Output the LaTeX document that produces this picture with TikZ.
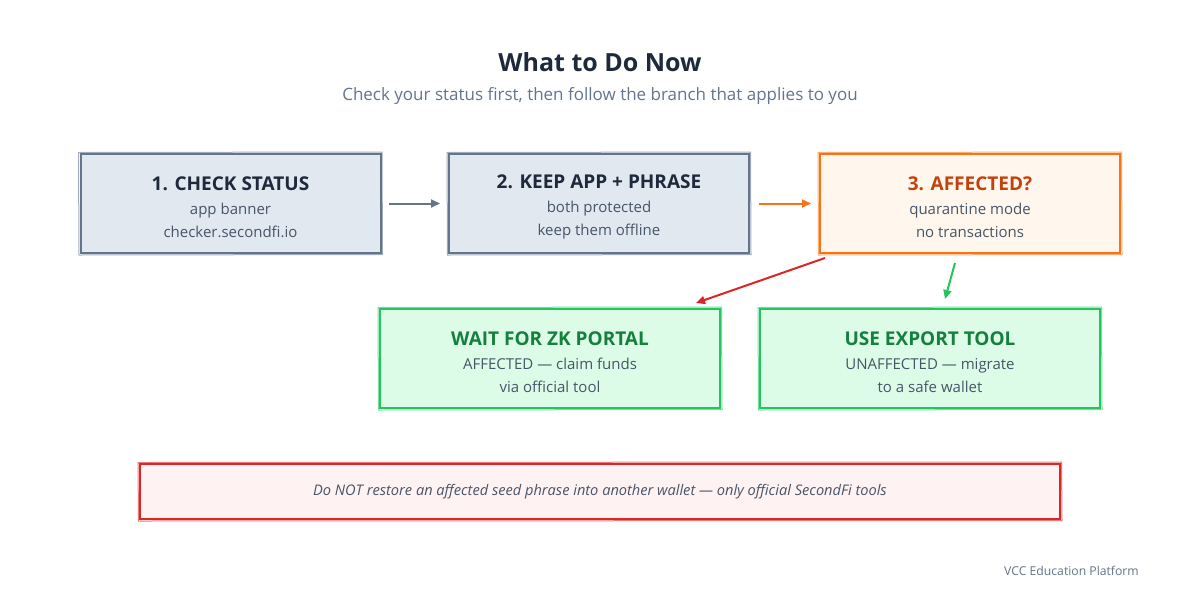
\documentclass[tikz,border=0pt]{standalone}
\usepackage{fontspec}
\setmainfont{Open Sans}
\usetikzlibrary{positioning, arrows.meta, calc}

\definecolor{slateline}{HTML}{64748B}
\definecolor{slatefill}{HTML}{E2E8F0}
\definecolor{inktitle}{HTML}{1E293B}
\definecolor{inktext}{HTML}{475569}
\definecolor{orangeline}{HTML}{F97316}
\definecolor{orangefill}{HTML}{FFF7ED}
\definecolor{orangetitle}{HTML}{C2410C}
\definecolor{greenline}{HTML}{22C55E}
\definecolor{greenfill}{HTML}{DCFCE7}
\definecolor{greentitle}{HTML}{15803D}
\definecolor{redline}{HTML}{DC2626}
\definecolor{redfill}{HTML}{FEF2F2}

\tikzset{
  stepbox/.style={draw=#1line, fill=#1fill, line width=2pt, inner sep=0pt,
    minimum height=99pt, align=center, text=inktext,
    font=\fontsize{15}{23}\selectfont},
  flowarrow/.style={line width=2pt, -{Triangle[length=9pt,width=8pt]}},
}

% second, slightly offset stroke for the hand-drawn look
\newcommand{\sketchframe}[2]{%
  \draw[#2, line width=1pt, opacity=0.6]
    ([shift={(-1pt,0.5pt)}]#1.north west) -- ([shift={(0.5pt,1pt)}]#1.north east)
    -- ([shift={(1pt,-0.5pt)}]#1.south east) -- ([shift={(-0.5pt,-1pt)}]#1.south west)
    -- cycle;}

\newcommand{\boxtitle}[2]{{\rule{0pt}{21pt}\fontsize{19}{22}\selectfont\bfseries\color{#1}#2}\\[1pt]}

\begin{document}
\begin{tikzpicture}[x=1pt, y=-1pt]

  % Canvas.
  \useasboundingbox[fill=white] (0,0) rectangle (1200,600);

  % Heading.
  \node[text=inktitle, font=\fontsize{25}{28}\selectfont\bfseries] (title) at (600,62) {What to Do Now};
  \node[text=slateline, font=\fontsize{17}{20}\selectfont] (subtitle) at (600,96)
    {Check your status first, then follow the branch that applies to you};

  % Top row of steps.
  \node[stepbox=slate, minimum width=300pt] (check) at (230.5,203.5)
    {\boxtitle{inktitle}{1. CHECK STATUS} app banner\\ checker.secondfi.io};
  \node[stepbox=slate, minimum width=300pt] (keep) at (599,203.5)
    {\boxtitle{inktitle}{2. KEEP APP + PHRASE} both protected\\ keep them offline};
  \node[stepbox=orange, minimum width=300pt] (affected) at (970,203.5)
    {\boxtitle{orangetitle}{3. AFFECTED?} quarantine mode\\ no transactions};

  % The two branches.
  \node[stepbox=green, minimum width=340pt] (portal) at (550,358.5)
    {\boxtitle{greentitle}{WAIT FOR ZK PORTAL} AFFECTED — claim funds\\ via official tool};
  \node[stepbox=green, minimum width=340pt] (export) at (930,358.5)
    {\boxtitle{greentitle}{USE EXPORT TOOL} UNAFFECTED — migrate\\ to a safe wallet};

  % Warning banner.
  \node[draw=redline, fill=redfill, line width=2pt, minimum width=920pt, minimum height=55pt,
    text=inktext, font=\fontsize{14.6}{16}\selectfont\itshape] (warning) at (600,491.5)
    {Do NOT restore an affected seed phrase into another wallet — only official SecondFi tools};

  \sketchframe{check}{slateline}
  \sketchframe{keep}{slateline}
  \sketchframe{affected}{orangeline}
  \sketchframe{portal}{greenline}
  \sketchframe{export}{greenline}
  \sketchframe{warning}{redline}

  % Connectors.
  \draw[flowarrow, slateline, shorten <=7pt, shorten >=8pt] (check) -- (keep);
  \draw[flowarrow, orangeline, shorten <=9pt, shorten >=8pt] (keep) -- (affected);
  \draw[flowarrow, redline] ([xshift=6pt,yshift=-4pt]affected.south west)
    -- ([xshift=-25pt,yshift=5pt]portal.north east);
  \draw[flowarrow, greenline] ([xshift=-15pt,yshift=-9pt]affected.south)
    -- ([xshift=15pt,yshift=9pt]export.north);

  % Footer.
  \node[anchor=east, inner sep=0pt, text=slateline, font=\fontsize{12.2}{14}\selectfont] (footer) at (1139,571)
    {VCC Education Platform};

\end{tikzpicture}
\end{document}
